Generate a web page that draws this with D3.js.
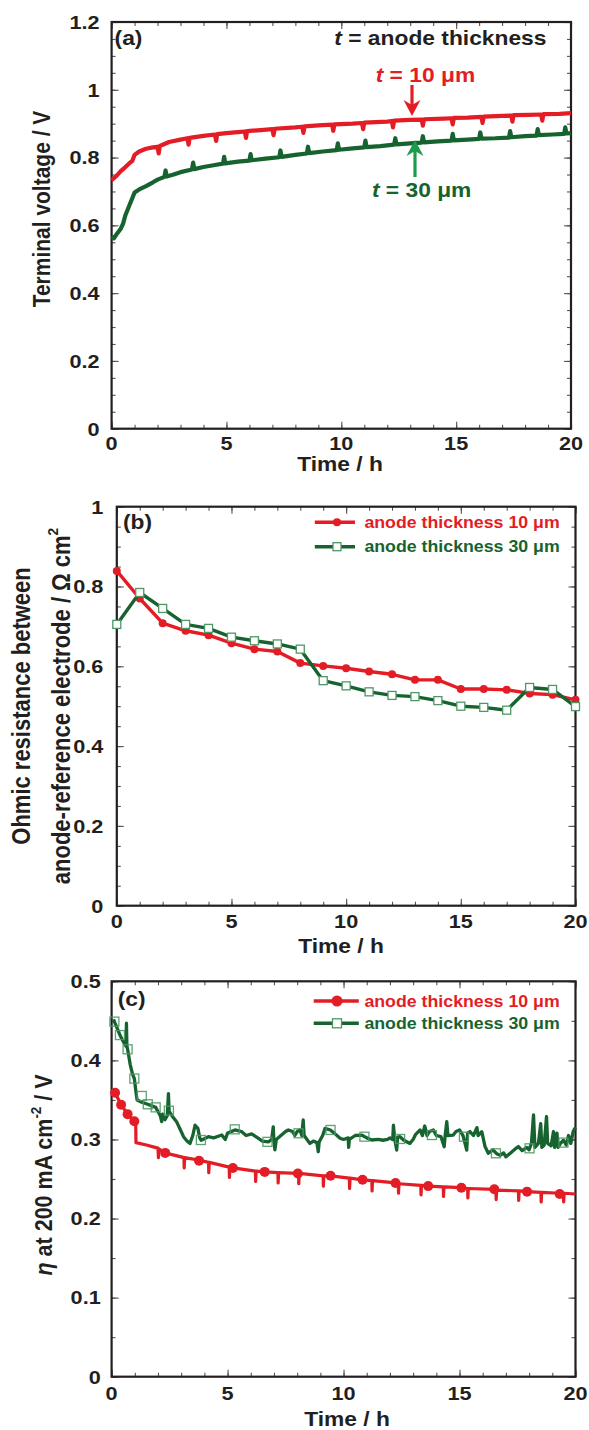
<!DOCTYPE html>
<html><head><meta charset="utf-8">
<script src="https://cdn.jsdelivr.net/npm/d3@7"></script>
<style>body{margin:0;background:#fff}svg{display:block}text{font-family:"Liberation Sans",Arial,Helvetica,sans-serif;font-weight:bold}</style>
</head><body><script>
// ---------------- DATA ----------------
const xMajorTicks = [0, 5, 10, 15, 20];
const xTickLabels = ["0", "5", "10", "15", "20"];
const yTicksA = [0, 0.2, 0.4, 0.6, 0.8, 1, 1.2];
const yTickLabelsA = ["0", "0.2", "0.4", "0.6", "0.8", "1", "1.2"];
const yTicksB = [0, 0.2, 0.4, 0.6, 0.8, 1];
const yTickLabelsB = ["0", "0.2", "0.4", "0.6", "0.8", "1"];
const yTicksC = [0, 0.1, 0.2, 0.3, 0.4, 0.5];
const yTickLabelsC = ["0", "0.1", "0.2", "0.3", "0.4", "0.5"];

// (a) terminal voltage, t = 10 um
const voltage10 = [[0,0.733],[0.2,0.745],[0.4,0.760],[0.6,0.772],[0.8,0.785],[0.9,0.790],[1.0,0.808],[1.2,0.818],[1.5,0.826],[1.8,0.830],[2.0,0.832],[2.05,0.812],[2.1,0.834],[2.5,0.846],[3.0,0.853],[3.3,0.857],[3.35,0.838],[3.4,0.858],[4.0,0.864],[4.5,0.868],[4.55,0.849],[4.6,0.869],[5.0,0.872],[5.5,0.875],[5.8,0.877],[5.85,0.858],[5.9,0.878],[6.5,0.881],[7.0,0.884],[7.05,0.866],[7.1,0.885],[8.0,0.889],[8.3,0.891],[8.35,0.873],[8.4,0.892],[9.0,0.895],[9.6,0.897],[9.65,0.879],[9.7,0.898],[10.5,0.900],[10.9,0.902],[10.95,0.884],[11.0,0.903],[12.0,0.906],[12.2,0.908],[12.25,0.889],[12.3,0.909],[13.0,0.911],[13.5,0.912],[13.55,0.894],[13.6,0.913],[14.5,0.915],[14.8,0.916],[14.85,0.898],[14.9,0.917],[15.5,0.918],[16.1,0.920],[16.15,0.902],[16.2,0.921],[17.0,0.923],[17.4,0.924],[17.45,0.906],[17.5,0.925],[18.2,0.926],[18.7,0.927],[18.75,0.909],[18.8,0.928],[19.5,0.929],[20,0.931]];
// (a) terminal voltage, t = 30 um
const voltage30 = [[0,0.567],[0.1,0.562],[0.2,0.572],[0.4,0.590],[0.5,0.605],[0.6,0.630],[0.75,0.655],[0.9,0.680],[1.0,0.697],[1.2,0.706],[1.5,0.716],[1.8,0.727],[2.0,0.735],[2.3,0.743],[2.35,0.762],[2.4,0.744],[2.7,0.750],[3.0,0.757],[3.5,0.765],[3.55,0.785],[3.6,0.766],[4.0,0.772],[4.5,0.778],[4.85,0.782],[4.9,0.802],[4.95,0.783],[5.5,0.788],[6.0,0.791],[6.05,0.810],[6.1,0.792],[6.7,0.797],[7.3,0.801],[7.35,0.821],[7.4,0.802],[8.0,0.808],[8.5,0.812],[8.55,0.832],[8.6,0.813],[9.2,0.818],[9.8,0.822],[9.85,0.842],[9.9,0.823],[10.5,0.827],[11.0,0.830],[11.05,0.850],[11.1,0.831],[11.7,0.834],[12.3,0.838],[12.35,0.857],[12.4,0.839],[13.0,0.842],[13.5,0.844],[13.55,0.863],[13.6,0.845],[14.2,0.848],[14.8,0.850],[14.85,0.870],[14.9,0.851],[15.5,0.853],[16.0,0.855],[16.05,0.874],[16.1,0.856],[16.7,0.857],[17.3,0.859],[17.35,0.878],[17.4,0.860],[18.0,0.863],[18.5,0.865],[18.55,0.884],[18.6,0.866],[19.2,0.868],[19.7,0.870],[19.75,0.889],[19.8,0.871],[20,0.872]];

// (b) ohmic resistance
const hoursB = [0,1,2,3,4,5,6,7,8,9,10,11,12,13,14,15,16,17,18,19,20];
const ohmic10 = [0.839,0.770,0.708,0.689,0.678,0.658,0.643,0.637,0.608,0.601,0.595,0.587,0.580,0.566,0.566,0.543,0.543,0.541,0.532,0.529,0.516];
const ohmic30 = [0.705,0.785,0.745,0.705,0.695,0.673,0.664,0.656,0.643,0.564,0.551,0.536,0.527,0.524,0.514,0.500,0.497,0.490,0.547,0.542,0.499];

// (c) overpotential at 200 mA cm-2
const eta10 = [[0,0.362],[0.15,0.359],[0.41,0.344],[0.69,0.332],[0.98,0.323],[1.04,0.322],[1.05,0.296],[1.5,0.293],[1.87,0.290],[2.0,0.289],[2.02,0.277],[2.05,0.288],[2.3,0.283],[3.0,0.278],[3.12,0.277],[3.13,0.264],[3.15,0.277],[3.74,0.274],[4.18,0.271],[4.19,0.258],[4.21,0.271],[5.07,0.265],[5.08,0.252],[5.1,0.265],[5.23,0.264],[6.2,0.260],[6.21,0.247],[6.23,0.260],[6.6,0.259],[7.17,0.258],[7.18,0.245],[7.2,0.258],[8.03,0.257],[8.06,0.257],[8.07,0.244],[8.09,0.257],[9.12,0.254],[9.13,0.241],[9.15,0.254],[9.44,0.254],[10.25,0.251],[10.26,0.238],[10.28,0.251],[10.82,0.249],[11.22,0.248],[11.23,0.235],[11.25,0.248],[12.24,0.245],[12.36,0.244],[12.37,0.232],[12.39,0.244],[13.33,0.242],[13.34,0.230],[13.36,0.242],[13.65,0.241],[14.3,0.240],[14.31,0.228],[14.33,0.240],[15.08,0.239],[15.35,0.238],[15.36,0.226],[15.38,0.238],[16.5,0.237],[16.57,0.236],[16.58,0.224],[16.6,0.236],[17.54,0.235],[17.55,0.223],[17.57,0.235],[17.91,0.234],[18.51,0.233],[18.52,0.221],[18.54,0.233],[19.32,0.232],[19.48,0.232],[19.49,0.221],[19.51,0.232],[20,0.231]];
const eta10Markers = [[0.15,0.359],[0.41,0.344],[0.69,0.332],[0.98,0.323],[2.31,0.283],[3.77,0.273],[5.23,0.264],[6.6,0.259],[8.03,0.257],[9.44,0.254],[10.82,0.249],[12.24,0.245],[13.65,0.241],[15.08,0.239],[16.5,0.237],[17.91,0.234],[19.32,0.231]];
const eta30 = [[0.08,0.452],[0.12,0.449],[0.25,0.440],[0.36,0.432],[0.5,0.424],[0.62,0.418],[0.64,0.447],[0.66,0.418],[0.69,0.414],[0.8,0.395],[0.9,0.383],[0.98,0.377],[1.05,0.360],[1.1,0.350],[1.3,0.347],[1.56,0.3445],[1.9,0.3406],[2.1,0.330],[2.16,0.3225],[2.2,0.332],[2.3,0.325],[2.4,0.330],[2.45,0.358],[2.48,0.336],[2.6,0.330],[2.8,0.3225],[3.0,0.310],[3.1,0.3035],[3.25,0.298],[3.38,0.295],[3.5,0.305],[3.6,0.318],[3.72,0.314],[3.8,0.302],[3.86,0.299],[4.0,0.301],[4.17,0.3035],[4.4,0.302],[4.6,0.304],[4.75,0.3056],[4.9,0.300],[5.0,0.308],[5.32,0.312],[5.6,0.310],[5.8,0.305],[6.04,0.307],[6.3,0.302],[6.5,0.298],[6.76,0.297],[6.9,0.300],[6.97,0.316],[7.0,0.297],[7.04,0.287],[7.1,0.300],[7.3,0.305],[7.5,0.310],[7.62,0.312],[7.8,0.310],[7.9,0.305],[8.0,0.310],[8.12,0.312],[8.2,0.305],[8.26,0.3246],[8.3,0.305],[8.55,0.295],[8.7,0.298],[8.85,0.296],[8.91,0.2845],[8.95,0.297],[9.1,0.305],[9.2,0.314],[9.43,0.312],[9.6,0.308],[9.85,0.3015],[10.0,0.300],[10.2,0.302],[10.22,0.290],[10.25,0.300],[10.5,0.305],[10.78,0.3056],[11.0,0.302],[11.21,0.2993],[11.5,0.300],[11.7,0.299],[11.9,0.300],[12.0,0.302],[12.12,0.300],[12.15,0.318],[12.2,0.302],[12.29,0.2866],[12.33,0.303],[12.43,0.3035],[12.6,0.299],[12.86,0.295],[13.0,0.300],[13.1,0.306],[13.3,0.312],[13.4,0.305],[13.5,0.317],[13.6,0.305],[13.7,0.310],[13.87,0.312],[14.0,0.305],[14.2,0.3035],[14.34,0.2908],[14.38,0.305],[14.45,0.3225],[14.5,0.305],[14.73,0.3056],[14.85,0.310],[15.0,0.312],[15.15,0.305],[15.31,0.2866],[15.35,0.308],[15.45,0.310],[15.6,0.305],[15.75,0.315],[15.8,0.305],[15.96,0.3098],[16.1,0.291],[16.24,0.2825],[16.35,0.285],[16.45,0.2866],[16.6,0.282],[16.75,0.280],[16.9,0.283],[17.0,0.278],[17.2,0.283],[17.4,0.288],[17.54,0.291],[17.7,0.286],[17.9,0.290],[18.0,0.287],[18.1,0.295],[18.19,0.331],[18.25,0.290],[18.4,0.295],[18.5,0.320],[18.55,0.290],[18.65,0.293],[18.75,0.329],[18.8,0.295],[18.95,0.292],[19.05,0.310],[19.1,0.290],[19.2,0.308],[19.25,0.290],[19.35,0.295],[19.48,0.299],[19.6,0.293],[19.7,0.305],[19.8,0.295],[19.9,0.310],[19.97,0.314],[20,0.312]];
const eta30Markers = [[0.12,0.449],[0.36,0.432],[0.69,0.414],[0.98,0.377],[1.3,0.355],[1.56,0.3445],[1.9,0.3406],[2.47,0.3364],[3.85,0.2993],[5.31,0.3128],[6.72,0.297],[8.06,0.3078],[9.44,0.312],[10.9,0.3035],[12.44,0.3006],[13.81,0.3056],[15.19,0.3035],[16.57,0.2825],[18.02,0.2888],[19.48,0.296]];

// ---------------- STYLE ----------------
const RED = "#e31d25", GREEN = "#17632f", ARROWGREEN = "#1c9c4b", SQ = "#4e9866", INK = "#231f20", TICK = "#555";
const SX = 1.14;

const svg = d3.select("body").append("svg").attr("width", 589).attr("height", 1430);

function label(parent, x, y, parts, o) {
  const size = o.size, sx = o.sx || SX;
  const t = parent.append("text")
    .attr("transform", `translate(${x},${y}) scale(${sx},1)` + (o.rotate ? " rotate(-90)" : ""))
    .attr("text-anchor", o.anchor || "start")
    .attr("font-size", size)
    .attr("fill", o.color || INK);
  let prevSup = false;
  parts.forEach(p => {
    const ts = t.append("tspan").text(p.t);
    if (p.italic) ts.attr("font-style", "italic");
    if (p.sup) { ts.attr("font-size", size * 0.62).attr("dy", -size * 0.45); prevSup = true; }
    else if (prevSup) { ts.attr("dy", size * 0.45); prevSup = false; }
  });
  return t;
}

function panel(cfg) {
  const g = svg.append("g");
  const x = d3.scaleLinear().domain([0, 20]).range([cfg.left, cfg.right]);
  const y = d3.scaleLinear().domain([0, cfg.ymax]).range([cfg.bottom, cfg.top]);
  const xMinor = d3.range(0, 21, 1);
  const yMinor = d3.range(0, cfg.ymax + 1e-9, 0.05);
  const ax = [
    [d3.axisBottom(x).tickValues(xMinor).tickSize(-4), `translate(0,${cfg.bottom})`],
    [d3.axisBottom(x).tickValues(xMajorTicks).tickSize(-7), `translate(0,${cfg.bottom})`],
    [d3.axisTop(x).tickValues(xMinor).tickSize(-4), `translate(0,${cfg.top})`],
    [d3.axisTop(x).tickValues(xMajorTicks).tickSize(-7), `translate(0,${cfg.top})`],
    [d3.axisLeft(y).tickValues(yMinor).tickSize(-4), `translate(${cfg.left},0)`],
    [d3.axisLeft(y).tickValues(cfg.yTicks).tickSize(-7), `translate(${cfg.left},0)`],
    [d3.axisRight(y).tickValues(yMinor).tickSize(-4), `translate(${cfg.right},0)`],
    [d3.axisRight(y).tickValues(cfg.yTicks).tickSize(-7), `translate(${cfg.right},0)`]
  ];
  ax.forEach(([a, tr]) => {
    const ag = g.append("g").attr("transform", tr).call(a.tickFormat(""));
    ag.select(".domain").remove();
    ag.selectAll("line").attr("stroke", TICK).attr("stroke-width", 1.1);
  });
  g.append("rect").attr("x", cfg.left).attr("y", cfg.top)
    .attr("width", cfg.right - cfg.left).attr("height", cfg.bottom - cfg.top)
    .attr("fill", "none").attr("stroke", INK).attr("stroke-width", 2.2);
  xMajorTicks.forEach((v, i) => label(g, x(v), cfg.xLabelY, [{ t: xTickLabels[i] }], { size: 19, anchor: "middle" }));
  cfg.yTicks.forEach((v, i) => label(g, cfg.yLabelRight, y(v) + 6.8, [{ t: cfg.yLabels[i] }], { size: 19, anchor: "end" }));
  label(g, cfg.titleX, cfg.titleY, [{ t: "Time / h" }], { size: 20, anchor: "middle" });
  return { g, x, y };
}

// ---------------- PANEL (a) ----------------
const A = panel({ left: 111.6, right: 571, top: 22, bottom: 428.7, ymax: 1.2, yTicks: yTicksA, yLabels: yTickLabelsA,
  xLabelY: 450, yLabelRight: 99.5, titleX: 340, titleY: 471 });
const lineA = d3.line().x(d => A.x(d[0])).y(d => A.y(d[1]));
A.g.append("path").datum(voltage30).attr("d", lineA).attr("fill", "none").attr("stroke", GREEN).attr("stroke-width", 4.2).attr("stroke-linejoin", "round");
A.g.append("path").datum(voltage10).attr("d", lineA).attr("fill", "none").attr("stroke", RED).attr("stroke-width", 4.2).attr("stroke-linejoin", "round");
label(A.g, 114.6, 44.5, [{ t: "(a)" }], { size: 20 });
label(A.g, 334.3, 44.5, [{ t: "t", italic: true }, { t: " = anode thickness" }], { size: 20 });
label(A.g, 375.7, 82, [{ t: "t", italic: true }, { t: " = 10 \u03bcm" }], { size: 20, color: RED });
label(A.g, 371.9, 197, [{ t: "t", italic: true }, { t: " = 30 \u03bcm" }], { size: 20, color: GREEN });
function arrow(g, x, tipY, tailY, color) {
  const dir = tailY < tipY ? 1 : -1;
  const hb = tipY - dir * 11, hw = tipY - dir * 16;
  g.append("line").attr("x1", x).attr("x2", x).attr("y1", tailY).attr("y2", hb)
    .attr("stroke", color).attr("stroke-width", 3.2);
  g.append("path").attr("d", `M${x},${tipY} L${x - 8.5},${hw} L${x},${hb} L${x + 8.5},${hw} Z`).attr("fill", color);
}
arrow(A.g, 412, 116, 85, RED);
arrow(A.g, 415, 140, 177, ARROWGREEN);

// ---------------- PANEL (b) ----------------
const B = panel({ left: 116.8, right: 575.5, top: 506.7, bottom: 905.7, ymax: 1, yTicks: yTicksB, yLabels: yTickLabelsB,
  xLabelY: 928, yLabelRight: 103.3, titleX: 341, titleY: 953 });
const pts10 = hoursB.map((h, i) => [h, ohmic10[i]]);
const pts30 = hoursB.map((h, i) => [h, ohmic30[i]]);
const lineB = d3.line().x(d => B.x(d[0])).y(d => B.y(d[1]));
B.g.append("path").datum(pts10).attr("d", lineB).attr("fill", "none").attr("stroke", RED).attr("stroke-width", 3.4).attr("stroke-linejoin", "round");
B.g.selectAll("circle.m10").data(pts10).join("circle").attr("class", "m10")
  .attr("cx", d => B.x(d[0])).attr("cy", d => B.y(d[1])).attr("r", 4).attr("fill", RED);
B.g.append("path").datum(pts30).attr("d", lineB).attr("fill", "none").attr("stroke", GREEN).attr("stroke-width", 3.4).attr("stroke-linejoin", "round");
B.g.selectAll("rect.m30").data(pts30).join("rect").attr("class", "m30")
  .attr("x", d => B.x(d[0]) - 4).attr("y", d => B.y(d[1]) - 4).attr("width", 8).attr("height", 8)
  .attr("fill", "#fff").attr("stroke", SQ).attr("stroke-width", 1.3);
label(B.g, 123, 529, [{ t: "(b)" }], { size: 20 });
B.g.append("line").attr("x1", 314.8).attr("x2", 355).attr("y1", 522.3).attr("y2", 522.3).attr("stroke", RED).attr("stroke-width", 3.4);
B.g.append("circle").attr("cx", 337).attr("cy", 522.3).attr("r", 4).attr("fill", RED);
label(B.g, 364.4, 528, [{ t: "anode thickness 10 \u03bcm" }], { size: 16, sx: 1.11, color: RED });
B.g.append("line").attr("x1", 314.8).attr("x2", 355).attr("y1", 546.7).attr("y2", 546.7).attr("stroke", GREEN).attr("stroke-width", 3.4);
B.g.append("rect").attr("x", 333).attr("y", 542.7).attr("width", 8).attr("height", 8).attr("fill", "#fff").attr("stroke", SQ).attr("stroke-width", 1.3);
label(B.g, 364.4, 552.4, [{ t: "anode thickness 30 \u03bcm" }], { size: 16, sx: 1.11, color: GREEN });
label(B.g, 30, 706, [{ t: "Ohmic resistance between" }], { size: 22, anchor: "middle", rotate: true });
label(B.g, 69.5, 706, [{ t: "anode-reference electrode / \u03a9 cm" }, { t: "2", sup: true }], { size: 22, anchor: "middle", rotate: true });

// ---------------- PANEL (c) ----------------
const C = panel({ left: 111.6, right: 575.5, top: 981.3, bottom: 1376.7, ymax: 0.5, yTicks: yTicksC, yLabels: yTickLabelsC,
  xLabelY: 1400, yLabelRight: 100.7, titleX: 347, titleY: 1425.5 });
const lineC = d3.line().x(d => C.x(d[0])).y(d => C.y(d[1]));
C.g.append("path").datum(eta30).attr("d", lineC).attr("fill", "none").attr("stroke", GREEN).attr("stroke-width", 3.3).attr("stroke-linejoin", "round");
C.g.selectAll("rect.c30").data(eta30Markers).join("rect").attr("class", "c30")
  .attr("x", d => C.x(d[0]) - 4.5).attr("y", d => C.y(d[1]) - 4.5).attr("width", 9).attr("height", 9)
  .attr("fill", "none").attr("stroke", SQ).attr("stroke-width", 1.3).attr("stroke-opacity", 0.9);
C.g.append("path").datum(eta10).attr("d", lineC).attr("fill", "none").attr("stroke", RED).attr("stroke-width", 3.2).attr("stroke-linejoin", "round");
C.g.selectAll("circle.c10").data(eta10Markers).join("circle").attr("class", "c10")
  .attr("cx", d => C.x(d[0])).attr("cy", d => C.y(d[1])).attr("r", 5).attr("fill", RED);
label(C.g, 117.7, 1006, [{ t: "(c)" }], { size: 20 });
C.g.append("line").attr("x1", 313.7).attr("x2", 358.8).attr("y1", 1001).attr("y2", 1001).attr("stroke", RED).attr("stroke-width", 3.4);
C.g.append("circle").attr("cx", 337).attr("cy", 1001).attr("r", 5.5).attr("fill", RED);
label(C.g, 364.4, 1006.6, [{ t: "anode thickness 10 \u03bcm" }], { size: 16, sx: 1.11, color: RED });
C.g.append("line").attr("x1", 313.7).attr("x2", 358.8).attr("y1", 1023.3).attr("y2", 1023.3).attr("stroke", GREEN).attr("stroke-width", 3.4);
C.g.append("rect").attr("x", 332.5).attr("y", 1018.8).attr("width", 9).attr("height", 9).attr("fill", "#fff").attr("stroke", SQ).attr("stroke-width", 1.3);
label(C.g, 364.4, 1028.9, [{ t: "anode thickness 30 \u03bcm" }], { size: 16, sx: 1.11, color: GREEN });

label(A.g, 50, 209, [{ t: "Terminal voltage / V" }], { size: 21, anchor: "middle", rotate: true });
label(C.g, 51.7, 1175, [{ t: "\u03b7", italic: true }, { t: " at 200 mA cm" }, { t: "-2", sup: true }, { t: " / V" }], { size: 21.5, anchor: "middle", rotate: true });
</script></body></html>
